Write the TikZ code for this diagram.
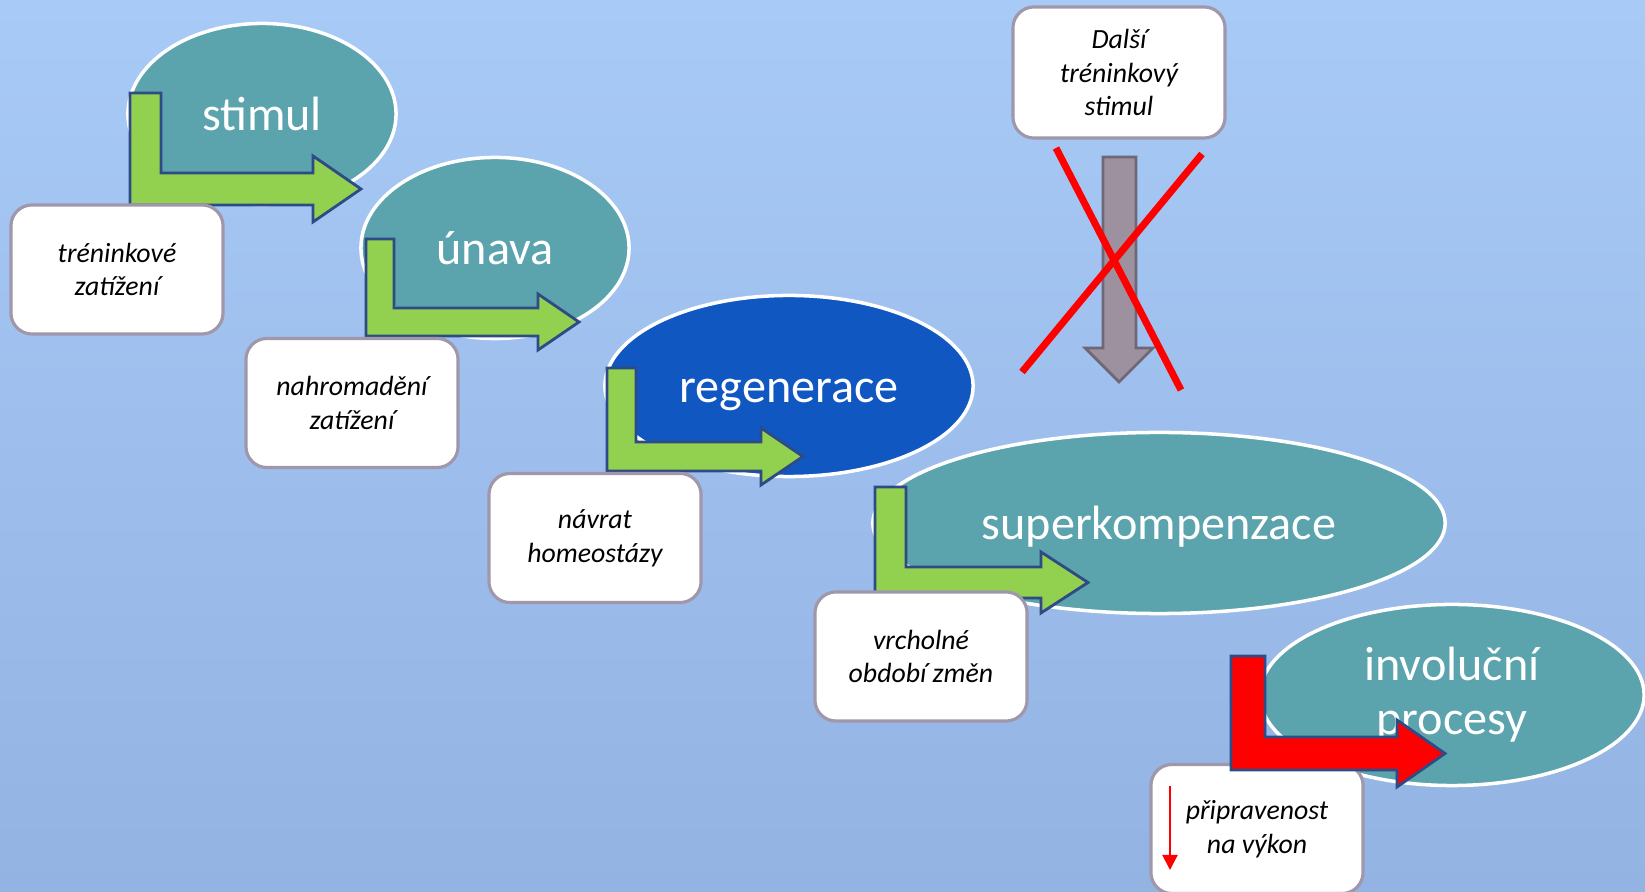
\documentclass[tikz,border=0pt]{standalone}
\usepackage{fontspec}
\setmainfont{Carlito}
\usetikzlibrary{shapes.geometric,arrows.meta}

\definecolor{bgtop}{HTML}{A8CAF6}
\definecolor{bgbot}{HTML}{93B3E3}
\definecolor{ovalteal}{HTML}{5BA3AD}
\definecolor{ovalblue}{HTML}{1057C2}
\definecolor{arrgreen}{HTML}{92D050}
\definecolor{arredge}{HTML}{2F4B85}
\definecolor{cardedge}{HTML}{A097AA}
\definecolor{grayfill}{HTML}{9D91A0}
\definecolor{grayedge}{HTML}{6F6676}

\newcommand{\ovaltxt}{\fontsize{13.7}{15.3}\selectfont}
\newcommand{\cardtxt}{\fontsize{7.9}{9.6}\selectfont\itshape}

\tikzset{
  oval/.style={ellipse, draw=white, line width=1pt, fill=ovalteal, text=white,
    inner sep=0pt, minimum height=1.81cm, align=center, font=\ovaltxt},
  onerow/.style={text height=9.6pt, text depth=0pt},
  card/.style={rectangle, draw=cardedge, line width=0.9pt, fill=white,
    rounded corners=0.21cm, minimum width=2.12cm, minimum height=1.29cm,
    align=center, font=\cardtxt},
  bentarr/.style={fill=arrgreen, draw=arredge, line width=0.8pt, line join=miter},
}

\begin{document}
\begin{tikzpicture}[x=0.01cm, y=-0.01cm]
% pozadi
\useasboundingbox (0,0) rectangle (1645,892);
\shade[top color=bgtop, bottom color=bgbot] (0,0) rectangle (1645,892);

% elipsy
\node[oval, onerow, minimum width=2.68cm] (stimul) at (262,114) {stimul};
\node[oval, onerow, minimum width=2.68cm] (unava) at (495,248) {únava};
\node[oval, onerow, minimum width=3.68cm, fill=ovalblue] (regen) at (789,386) {regenerace};
\node[oval, onerow, minimum width=5.72cm] (superk) at (1159,523) {superkompenzace};
\node[oval, minimum width=3.84cm] (invol) at (1452,695) {involuční\\procesy};

% zelene lomene sipky
\draw[bentarr] (130,93) -- (161,93) -- (161,173) -- (313,173) -- (313,156) -- (361,189) -- (313,222) -- (313,205) -- (130,205) -- cycle; % stimul
\draw[bentarr] (366,239) -- (394,239) -- (394,308) -- (538,308) -- (538,294) -- (579,322) -- (538,350) -- (538,336) -- (366,336) -- cycle; % unava
\draw[bentarr] (607,368) -- (636,368) -- (636,442) -- (761,442) -- (761,428) -- (803,456.5) -- (761,485) -- (761,471) -- (607,471) -- cycle; % regenerace
\draw[bentarr] (875,487) -- (906,487) -- (906,567) -- (1041,567) -- (1041,552) -- (1088,582.5) -- (1041,613) -- (1041,598) -- (875,598) -- cycle; % superkompenzace

% popisky
\node[card] (zatizeni) at (117,269.5) {tréninkové\\zatížení};
\node[card] (nahrom) at (352,403) {nahromadění\\zatížení};
\node[card] (navrat) at (595,538) {návrat\\homeostázy};
\node[card] (vrchol) at (921,656.5) {vrcholné\\období změn};
\node[card, minimum height=1.31cm] (dalsi) at (1119,72.5) {Další\\tréninkový\\stimul};
\node[card] (priprav) at (1257,829) {připravenost\\na výkon};

% mala sipka dolu
\coordinate (dolu1) at (1170,786);
\coordinate (dolu2) at (1170,870);
\draw[red, line width=0.6pt, -{Triangle[width=4.3pt, length=4.3pt]}] (dolu1) -- (dolu2);

% cervena lomena sipka
\draw[bentarr, fill=red] (1231,656) -- (1265,656) -- (1265,737) -- (1397,737) -- (1397,720) -- (1445,753.5) -- (1397,787) -- (1397,770) -- (1231,770) -- cycle;

% seda sipka a preskrtnuti
\draw[fill=grayfill, draw=grayedge, line width=0.8pt] (1103,157) -- (1136,157) -- (1136,348) -- (1153,348) -- (1119,382) -- (1085,348) -- (1103,348) -- cycle;
\draw[red, line width=2pt] (1056,148) -- (1181,390);
\draw[red, line width=2pt] (1202,154) -- (1022,372);

\end{tikzpicture}
\end{document}
